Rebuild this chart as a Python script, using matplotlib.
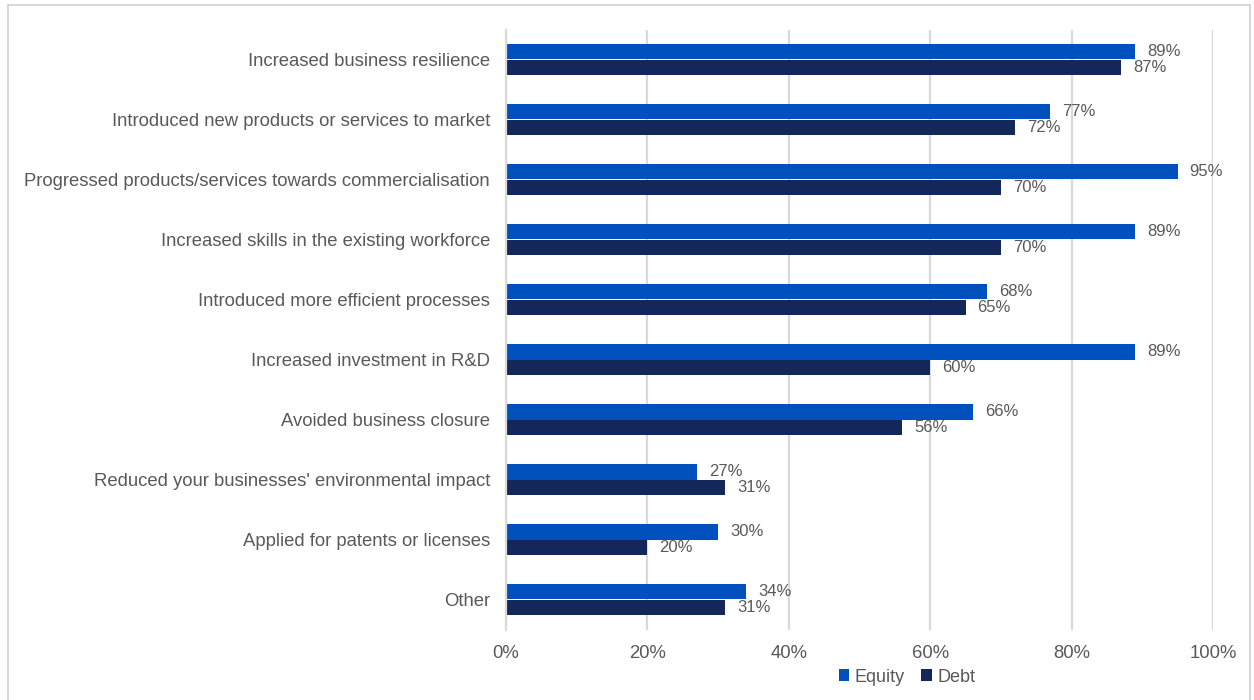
import numpy as np
import matplotlib.pyplot as plt
from matplotlib.patches import Rectangle

plt.rcParams['font.family'] = ['Liberation Sans', 'DejaVu Sans']

categories = [
    "Increased business resilience",
    "Introduced new products or services to market",
    "Progressed products/services towards commercialisation",
    "Increased skills in the existing workforce",
    "Introduced more efficient processes",
    "Increased investment in R&D",
    "Avoided business closure",
    "Reduced your businesses' environmental impact",
    "Applied for patents or licenses",
    "Other",
]
equity = [89, 77, 95, 89, 68, 89, 66, 27, 30, 34]
debt = [87, 72, 70, 70, 65, 60, 56, 31, 20, 31]
xticks = [0, 20, 40, 60, 80, 100]

equity_color = "#0050BE"
debt_color = "#14275A"
text_color = "#595959"
grid_color = "#D9D9D9"

fig = plt.figure(figsize=(12.54, 7.0), dpi=100)
ax = fig.add_axes([506 / 1254, 1 - 629.5 / 700, 707 / 1254, 600 / 700])

y = np.arange(len(categories))
h = 0.26
ax.barh(y - h / 2, equity, height=h, color=equity_color, label="Equity", zorder=3)
ax.barh(y + h / 2, debt, height=h, color=debt_color, label="Debt", zorder=3)

for yi, e, d in zip(y, equity, debt):
    ax.text(e + 1.7, yi - h / 2, f"{e}%", va="center", ha="left",
            fontsize=12, color=text_color)
    ax.text(d + 1.7, yi + h / 2, f"{d}%", va="center", ha="left",
            fontsize=12, color=text_color)

ax.set_xlim(0, 100)
ax.set_ylim(len(categories) - 0.5, -0.5)
ax.set_yticks(y)
ax.set_yticklabels(categories, fontsize=13.3, color=text_color)
ax.set_xticks(xticks)
ax.set_xticklabels([f"{t}%" for t in xticks], fontsize=13.3, color=text_color)
ax.tick_params(axis="y", length=0, pad=11.5)
ax.tick_params(axis="x", length=0, pad=11)

ax.grid(axis="x", color=grid_color, linewidth=1.6, zorder=0)
for s in ["top", "right", "bottom"]:
    ax.spines[s].set_visible(False)
ax.spines["left"].set_color(grid_color)
ax.spines["left"].set_linewidth(1.6)
ax.spines["left"].set_zorder(4)

leg = fig.legend(loc="center", bbox_to_anchor=(907 / 1254, 1 - 677 / 700), ncol=2,
                 frameon=False, fontsize=13, handlelength=0.6, handleheight=0.6,
                 handletextpad=0.3, columnspacing=0.9)
for t in leg.get_texts():
    t.set_color(text_color)

# thin frame around the whole figure
fig.patches.append(Rectangle((8 / 1254, -0.01), 1242 / 1254, 1 - 5 / 700 + 0.01,
                             transform=fig.transFigure, fill=False,
                             edgecolor="#D0D0D0", linewidth=1.2))

fig.savefig("out.png", dpi=100)
